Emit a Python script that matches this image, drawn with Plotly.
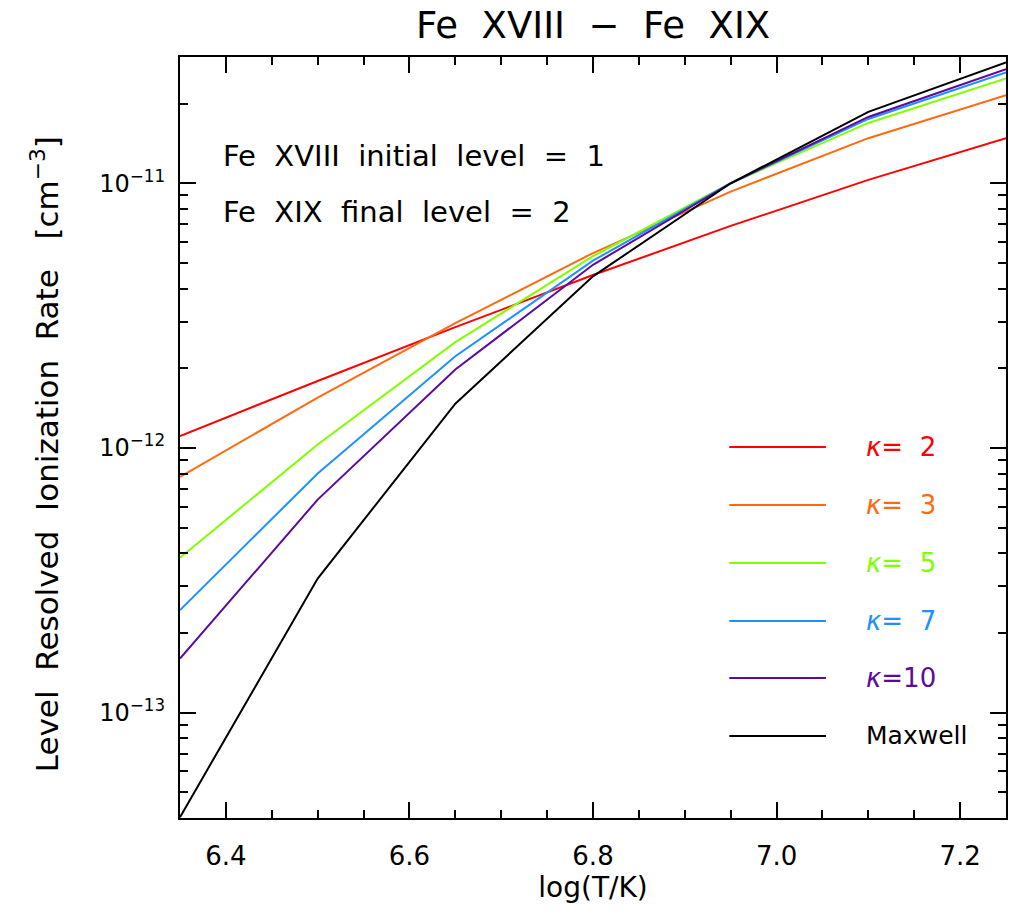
import plotly.graph_objects as go

# Data
log_t = [6.35, 6.50, 6.65, 6.80, 6.95, 7.10, 7.25]
rate_k2 = [1.11e-12, 1.79e-12, 2.86e-12, 4.50e-12, 6.90e-12, 1.03e-11, 1.48e-11]
rate_k3 = [7.78e-13, 1.55e-12, 2.96e-12, 5.45e-12, 9.30e-12, 1.48e-11, 2.15e-11]
rate_k5 = [3.85e-13, 1.03e-12, 2.51e-12, 5.30e-12, 1.00e-11, 1.69e-11, 2.49e-11]
rate_k7 = [2.44e-13, 8.01e-13, 2.22e-12, 5.10e-12, 1.00e-11, 1.75e-11, 2.62e-11]
rate_k10 = [1.60e-13, 6.38e-13, 1.98e-12, 4.92e-12, 1.00e-11, 1.78e-11, 2.70e-11]
rate_maxwell = [4.03e-14, 3.21e-13, 1.47e-12, 4.45e-12, 1.00e-11, 1.86e-11, 2.86e-11]

series_names = ["κ= 2", "κ= 3", "κ= 5", "κ= 7", "κ=10", "Maxwell"]
series_values = [rate_k2, rate_k3, rate_k5, rate_k7, rate_k10, rate_maxwell]
series_colors = ["#FF0000", "#FF6A10", "#80FF00", "#1E90FF", "#5B0AA0", "#000000"]

x_ticks = [6.4, 6.6, 6.8, 7.0, 7.2]
x_ticktext = ["6.4", "6.6", "6.8", "7.0", "7.2"]
y_ticks = [1e-13, 1e-12, 1e-11]
y_ticktext = ["10<sup>−13</sup>", "10<sup>−12</sup>", "10<sup>−11</sup>"]
y_minor = [m * 10.0 ** e for e in (-14, -13, -12, -11) for m in range(2, 10)]

FONT = "DejaVu Sans"
SP = "\u00a0"

def spaced(s, n=2):
    return (SP * n).join(s.split(" "))

fig = go.Figure()
for name, vals, col in zip(series_names, series_values, series_colors):
    fig.add_trace(go.Scatter(x=log_t, y=vals, mode="lines", name=name,
                             line=dict(color=col, width=2), showlegend=False))

# custom legend
row_y = [0.4875, 0.4113, 0.3351, 0.2589, 0.1840, 0.1078]
for name, col, ry in zip(series_names, series_colors, row_y):
    fig.add_shape(type="line", xref="paper", yref="paper", x0=0.665, x1=0.782,
                  y0=ry, y1=ry, line=dict(color=col, width=2))
    txt = name.replace("κ", "<i>κ</i>").replace(" ", SP * 2)
    fig.add_annotation(xref="paper", yref="paper", x=0.828, y=ry, text=txt,
                       showarrow=False, xanchor="left", yanchor="middle",
                       font=dict(family=FONT, size=26 if name != "Maxwell" else 25, color=col))

fig.add_annotation(xref="paper", yref="paper", x=0.05, y=0.87,
                   text=spaced("Fe XVIII initial level = 1"), showarrow=False,
                   xanchor="left", yanchor="middle",
                   font=dict(family=FONT, size=29, color="black"))
fig.add_annotation(xref="paper", yref="paper", x=0.05, y=0.796,
                   text=spaced("Fe XIX final level = 2"), showarrow=False,
                   xanchor="left", yanchor="middle",
                   font=dict(family=FONT, size=29, color="black"))

# y-axis title (placed as rotated annotation to match position)
fig.add_annotation(xref="paper", yref="paper", x=-0.1634, y=0.478,
                   text=spaced("Level Resolved Ionization Rate") + SP * 3 + "[cm<sup>−3</sup>]",
                   showarrow=False, textangle=-90, xanchor="center", yanchor="middle",
                   font=dict(family=FONT, size=31, color="black"))

fig.update_layout(
    width=1020, height=920,
    margin=dict(l=180, r=14, t=57, b=102),
    plot_bgcolor="white", paper_bgcolor="white",
    title=dict(text=spaced("Fe XVIII − Fe XIX"), x=0.5815, xanchor="center",
               y=0.973, yanchor="middle",
               font=dict(family=FONT, size=37, color="black")),
    font=dict(family=FONT, color="black"),
    xaxis=dict(range=[6.35, 7.25], tickmode="array", tickvals=x_ticks, ticktext=x_ticktext,
               ticks="inside", ticklen=16, tickwidth=2, tickcolor="black",
               showline=True, linewidth=2, linecolor="black", mirror="ticks",
               showgrid=False, zeroline=False, ticklabelstandoff=14,
               tickfont=dict(family=FONT, size=26, color="black"),
               minor=dict(ticks="inside", ticklen=8, tickwidth=2, tickcolor="black", dtick=0.05,
                          showgrid=False),
               title=dict(text="log(T/K)", font=dict(family=FONT, size=28, color="black"),
                          standoff=2)),
    yaxis=dict(type="log", range=[-13.398, -10.523], tickmode="array",
               tickvals=y_ticks, ticktext=y_ticktext,
               ticks="inside", ticklen=16, tickwidth=2, tickcolor="black",
               showline=True, linewidth=2, linecolor="black", mirror="ticks",
               showgrid=False, zeroline=False, ticklabelstandoff=8,
               tickfont=dict(family=FONT, size=24, color="black"),
               minor=dict(ticks="inside", ticklen=8, tickwidth=2, tickcolor="black",
                          tickvals=y_minor, showgrid=False)),
)

fig.write_html("out.html")
